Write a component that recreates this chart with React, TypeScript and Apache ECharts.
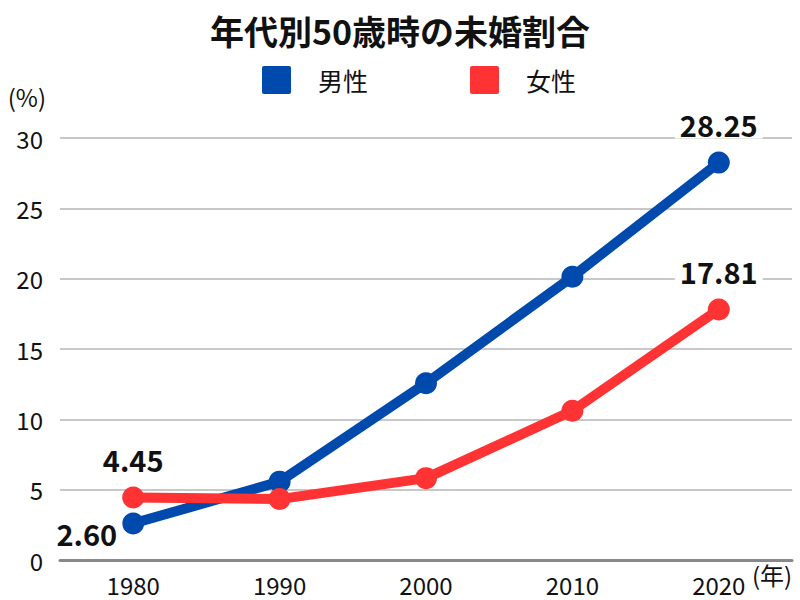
import React, { useEffect, useRef } from "react";
import * as echarts from "echarts";

const years = ["1980", "1990", "2000", "2010", "2020"];
const male = [2.6, 5.57, 12.57, 20.14, 28.25];
const female = [4.45, 4.33, 5.82, 10.61, 17.81];
const yTicks = [0, 5, 10, 15, 20, 25, 30];

const FONT = "'Noto Sans CJK JP', 'Noto Sans', sans-serif";
const BLUE = "#004AAD";
const RED = "#FF3333";

export default function App() {
  const ref = useRef<HTMLDivElement>(null);
  useEffect(() => {
    if (!ref.current) return;
    const chart = echarts.init(ref.current, null, { renderer: "svg" });
    const labelBase = {
      show: true,
      fontFamily: FONT,
      fontSize: 29,
      fontWeight: "bold",
      color: "#111",
      backgroundColor: "#fff",
      padding: [0, 5],
      formatter: (p: any) => p.value.toFixed(2),
    };
    const mkData = (arr: number[], labelFor: (i: number) => any) =>
      arr.map((v, i) => {
        const lab = labelFor(i);
        return lab ? { value: v, label: lab } : { value: v, label: { show: false } };
      });
    chart.setOption({
      animation: false,
      textStyle: { fontFamily: FONT },
      title: {
        text: "年代別50歳時の未婚割合",
        left: "center",
        top: 8,
        textStyle: { fontFamily: FONT, fontSize: 34, fontWeight: "bold", color: "#111" },
      },
      legend: {
        top: 61,
        left: 257,
        itemWidth: 29,
        itemHeight: 28,
        itemGap: 102,
        icon: "path://M2,0 H27 Q29,0 29,2 V26 Q29,28 27,28 H2 Q0,28 0,26 V2 Q0,0 2,0 Z",
        textStyle: { fontFamily: FONT, fontSize: 25, color: "#111", padding: [0, 0, 0, 22] },
        data: ["男性", "女性"],
      },
      grid: { left: 60, right: 8, top: 138, bottom: 40, containLabel: false },
      xAxis: {
        type: "category",
        data: years,
        boundaryGap: true,
        name: "(年)",
        nameLocation: "end",
        nameGap: -40,
        nameTextStyle: {
          fontFamily: FONT,
          fontSize: 24,
          color: "#111",
          align: "left",
          verticalAlign: "top",
          padding: [2, 0, 0, 0],
        },
        axisLine: { show: true, lineStyle: { color: "#888", width: 3 } },
        axisTick: { show: false },
        axisLabel: { fontFamily: FONT, fontSize: 24, color: "#111", margin: 12 },
      },
      yAxis: {
        type: "value",
        min: yTicks[0],
        max: yTicks[yTicks.length - 1],
        interval: 5,
        name: "(%)",
        nameLocation: "end",
        nameGap: 30,
        nameTextStyle: {
          fontFamily: FONT,
          fontSize: 24,
          color: "#111",
          align: "right",
          padding: [0, 14, 0, 0],
        },
        axisLine: { show: false },
        axisTick: { show: false },
        axisLabel: { fontFamily: FONT, fontSize: 24, color: "#111", margin: 17 },
        splitLine: { lineStyle: { color: "#c8c8c8", width: 2 } },
      },
      series: [
        {
          name: "男性",
          type: "line",
          data: mkData(male, (i) =>
            i === 0
              ? { ...labelBase, position: "left", distance: 0, offset: [0, 10] }
              : i === male.length - 1
              ? { ...labelBase, position: "top", distance: 13 }
              : null
          ),
          color: BLUE,
          symbol: "circle",
          symbolSize: 22,
          lineStyle: { width: 10, color: BLUE },
          itemStyle: { color: BLUE },
          z: 2,
        },
        {
          name: "女性",
          type: "line",
          data: mkData(female, (i) =>
            i === 0 || i === female.length - 1
              ? { ...labelBase, position: "top", distance: 13 }
              : null
          ),
          color: RED,
          symbol: "circle",
          symbolSize: 22,
          lineStyle: { width: 10, color: RED },
          itemStyle: { color: RED },
          z: 3,
        },
      ],
    });
    return () => chart.dispose();
  }, []);
  return <div ref={ref} style={{ width: 800, height: 600, position: "absolute", left: 0, top: 0 }} />;
}
